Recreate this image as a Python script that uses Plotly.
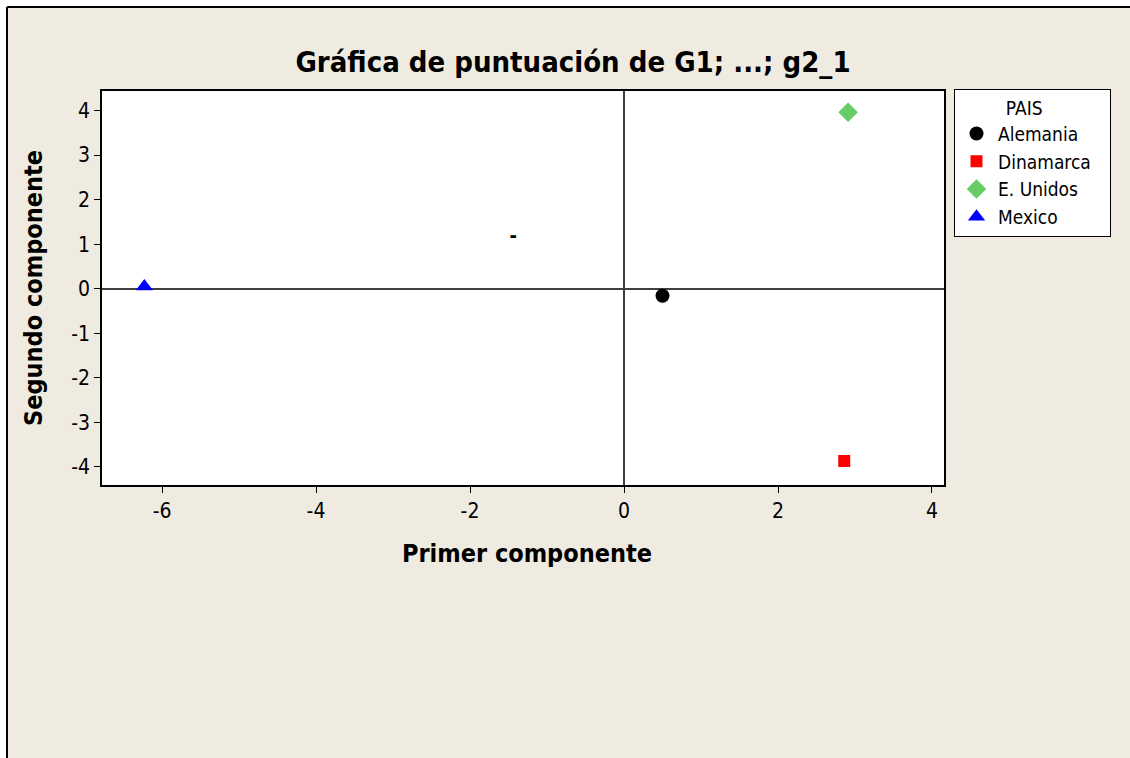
import plotly.graph_objects as go

# Data
countries = ["Alemania", "Dinamarca", "E. Unidos", "Mexico"]
pc1 = [0.50, 2.86, 2.91, -6.23]
pc2 = [-0.16, -3.87, 3.96, 0.05]
colors = ["#000000", "#FF0000", "#66CC66", "#0000FF"]
symbols = ["circle", "square", "diamond", "triangle-up"]
sizes = [14, 12, 15, 15]

stray_x = [-1.44]
stray_y = [1.17]

x_ticks = [-6, -4, -2, 0, 2, 4]
y_ticks = [-4, -3, -2, -1, 0, 1, 2, 3, 4]
x_ticktext = [str(v) for v in x_ticks]
y_ticktext = [str(v) for v in y_ticks]

FONT = "DejaVu Sans Condensed, DejaVu Sans, sans-serif"
W, H = 1130, 758
L, R, T, B = 102, 944, 91, 485
pw, ph = R - L, B - T


def px(x):
    return (x - L) / pw


def py(y):
    return (B - y) / ph


fig = go.Figure()
for name, x, y, c, s, sz in zip(countries, pc1, pc2, colors, symbols, sizes):
    fig.add_trace(go.Scatter(
        x=[x], y=[y], mode="markers", name=name,
        marker=dict(color=c, symbol=s, size=sz, line=dict(width=0)),
    ))

fig.add_trace(go.Scatter(
    x=stray_x, y=stray_y, mode="text", text=["<b>-</b>"], showlegend=False,
    textfont=dict(family=FONT, size=20, color="black"), hoverinfo="skip",
))

NB = "&nbsp;"
fig.update_layout(
    width=W, height=H,
    margin=dict(l=L, r=W - R, t=T, b=H - B, autoexpand=False),
    paper_bgcolor="#EFEBE1",
    plot_bgcolor="white",
    font=dict(family=FONT, size=18, color="black"),
    title=dict(
        text="<b>Gráfica de puntuación de G1; ...; g2_1</b>",
        x=573 / W, xanchor="center", y=1 - 62 / H, yanchor="middle",
        font=dict(family=FONT, size=29, color="black"),
    ),
    xaxis=dict(
        range=[-6.78, 4.156], tickvals=x_ticks, ticktext=x_ticktext,
        ticks="outside", ticklen=6,
        tickcolor="black", showline=True, linecolor="black", linewidth=1.5,
        mirror=True, showgrid=False, zeroline=True, zerolinecolor="#404040",
        zerolinewidth=1.5, tickfont=dict(size=21),
    ),
    yaxis=dict(
        range=[-4.41, 4.44], tickvals=y_ticks, ticktext=y_ticktext,
        ticks="outside", ticklen=6,
        tickcolor="black", showline=True, linecolor="black", linewidth=1.5,
        mirror=True, showgrid=False, zeroline=True, zerolinecolor="#404040",
        zerolinewidth=1.5, tickfont=dict(size=21),
    ),
    legend=dict(
        x=px(954), y=py(89), xanchor="left", yanchor="top",
        bgcolor="white", bordercolor="black", borderwidth=1,
        font=dict(family=FONT, size=19, color="black"),
        title=dict(text=NB * 9 + "PAIS" + NB * 12, side="top",
                   font=dict(size=19)),
        tracegroupgap=2, itemwidth=33,
    ),
    annotations=[
        dict(text="<b>Primer componente</b>", xref="paper", yref="paper",
             x=px(527), y=py(553), xanchor="center", yanchor="middle",
             showarrow=False, font=dict(family=FONT, size=25)),
        dict(text="<b>Segundo componente</b>", xref="paper", yref="paper",
             x=px(33), y=py(288), xanchor="center", yanchor="middle",
             textangle=-90, showarrow=False, font=dict(family=FONT, size=25)),
    ],
    shapes=[
        # white strip outside the frame (top and left)
        dict(type="rect", xref="paper", yref="paper",
             x0=px(-5), x1=px(W + 5), y0=py(7), y1=py(-5),
             fillcolor="white", line=dict(width=0), layer="below"),
        dict(type="rect", xref="paper", yref="paper",
             x0=px(-5), x1=px(7), y0=py(-5), y1=py(H + 5),
             fillcolor="white", line=dict(width=0), layer="below"),
        dict(type="line", xref="paper", yref="paper",
             x0=px(7), x1=px(W + 5), y0=py(7), y1=py(7),
             line=dict(color="black", width=2)),
        dict(type="line", xref="paper", yref="paper",
             x0=px(7), x1=px(7), y0=py(7), y1=py(H + 5),
             line=dict(color="black", width=2)),
    ],
)

fig.write_html(
    "out.html",
    config={"displayModeBar": False},
    post_script="document.body.style.margin='0';"
                "document.body.style.overflow='hidden';",
)
